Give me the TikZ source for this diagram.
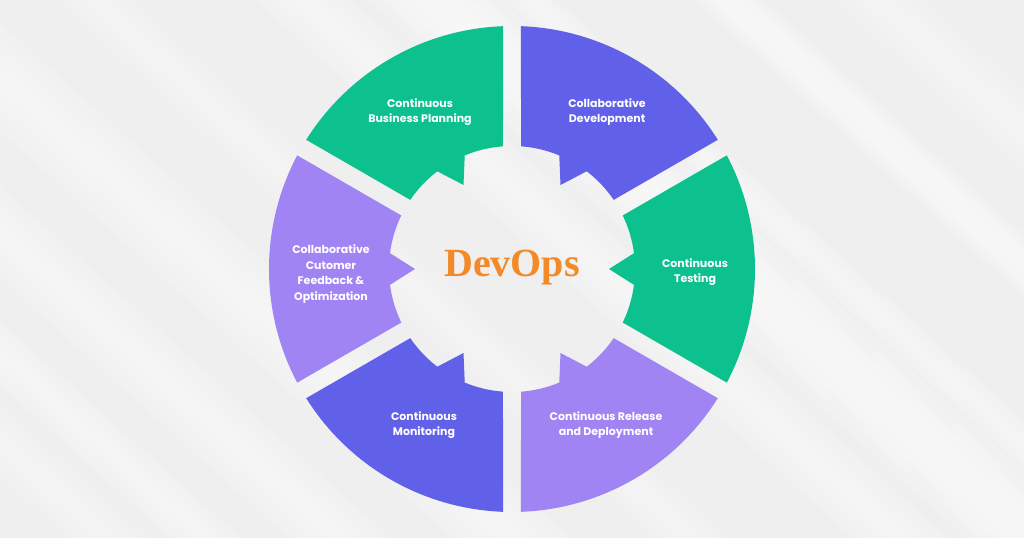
\documentclass[tikz,border=0pt]{standalone}
\usepackage{fontspec}
\newfontfamily\labfont{Poppins}
\newfontfamily\titlefont{Liberation Serif}
\definecolor{bggray}{RGB}{239,239,239}
\definecolor{segGreen}{RGB}{12,193,142}
\definecolor{segBlue}{RGB}{96,96,233}
\definecolor{segLilac}{RGB}{161,132,243}
\definecolor{devOrange}{RGB}{243,138,42}
% one ring segment centred at angle #1, filled with colour #2
\newcommand\ringseg[2]{%
  \fill[#2] ({#1-30+2.12}:243pt)
    arc[start angle={#1-30+2.12}, end angle={#1+30-2.12}, radius=243pt]
    -- ({#1+30-4.2}:123pt)
    arc[start angle={#1+30-4.2}, end angle={#1+7.4}, radius=123pt]
    -- (#1:97pt) -- ({#1-7.4}:123pt)
    arc[start angle={#1-7.4}, end angle={#1-30+4.2}, radius=123pt]
    -- cycle;}
% soft white streak: offset #1, half width #2, strength #3
\newcommand\streak[3]{%
  \foreach \k in {1.0,0.8,0.6,0.4,0.2}{%
    \fill[white, opacity=#3] (-900,{#1-#2*\k}) rectangle (900,{#1+#2*\k});}}
\tikzset{
  seglabel/.style={text=white, font=\labfont\bfseries\fontsize{11}{15.5}\selectfont, align=center, inner sep=0pt},
  title/.style={text=devOrange, font=\titlefont\bfseries\fontsize{40}{44}\selectfont, inner sep=0pt}
}
\begin{document}
\begin{tikzpicture}[x=1pt, y=1pt]
\useasboundingbox (-512,-269) rectangle (512,269);
\fill[bggray] (-512,-269) rectangle (512,269);
\begin{scope}
\clip (-512,-269) rectangle (512,269);
\begin{scope}[rotate=-42]
\streak{-470}{30}{0.12}
\streak{-405}{24}{0.14}
\streak{-315}{34}{0.13}
\streak{-200}{40}{0.14}
\streak{-80}{28}{0.11}
\streak{60}{32}{0.14}
\streak{148}{44}{0.17}
\streak{212}{18}{0.14}
\streak{345}{24}{0.17}
\streak{445}{34}{0.12}
\end{scope}
\end{scope}

\ringseg{120}{segGreen}
\ringseg{60}{segBlue}
\ringseg{0}{segGreen}
\ringseg{-60}{segLilac}
\ringseg{-120}{segBlue}
\ringseg{180}{segLilac}

\node[seglabel] (plan) at (-92,157) {Continuous\\Business Planning};
\node[seglabel] (dev) at (95,157) {Collaborative\\Development};
\node[seglabel] (test) at (183,-3) {Continuous\\Testing};
\node[seglabel] (rel) at (94,-156) {Continuous Release\\and Deployment};
\node[seglabel] (mon) at (-88,-156) {Continuous\\Monitoring};
\node[seglabel] (fb) at (-181,-5) {Collaborative\\Cutomer\\Feedback \&\\Optimization};
\node[title] (devops) at (0,1) {DevOps};
\end{tikzpicture}
\end{document}
